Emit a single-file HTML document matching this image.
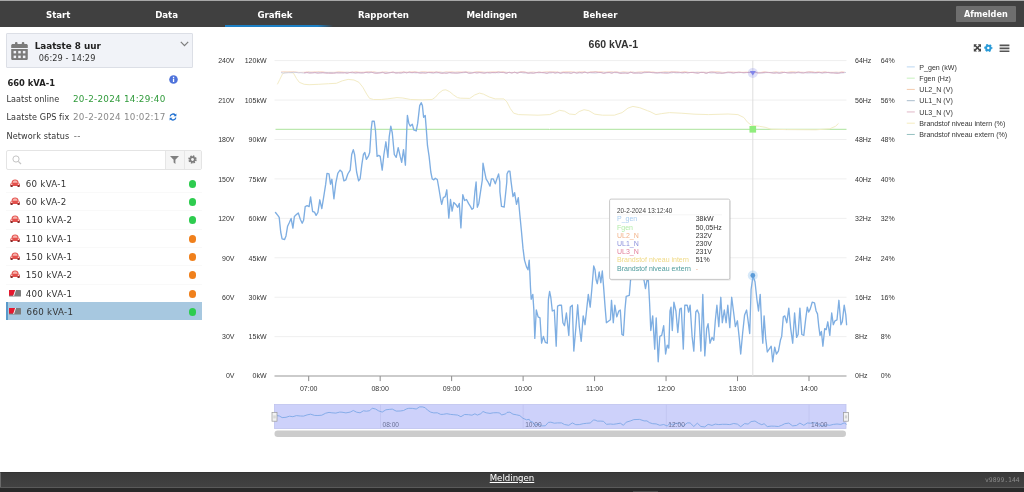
<!DOCTYPE html>
<html lang="nl">
<head>
<meta charset="utf-8">
<title>Grafiek - 660 kVA-1</title>
<style>
*{box-sizing:border-box;margin:0;padding:0}
html,body{width:1024px;height:492px;overflow:hidden;background:#fff}
body{position:relative;will-change:transform;font-family:"DejaVu Sans","Liberation Sans",Verdana,sans-serif;font-size:9px;color:#333}
.abs{position:absolute;white-space:nowrap}
/* top nav */
#nav{position:absolute;left:0;top:0;width:1024px;height:27px;background:#404040;border-top:1px solid #a8a8a8}
#nav .tab{position:absolute;top:0;height:26px;width:108.4px;text-align:center;color:#fff;font-weight:bold;font-size:8.6px;line-height:28.4px}
#nav .ul{position:absolute;left:225px;top:23.5px;width:107.5px;height:2.5px;background:linear-gradient(90deg,#1c7fc4 0,#1c7fc4 86%,rgba(28,127,196,0) 100%)}
#logout{position:absolute;left:955.7px;top:5px;width:60.3px;height:16px;background:#6e6e6e;color:#fff;font-weight:bold;font-size:8.15px;line-height:17px;text-align:center;border-radius:1px}
/* date box */
#datebox{position:absolute;left:6px;top:33px;width:186.5px;height:35px;background:#f1f3f8;border:1px solid #dcdfe6;border-radius:1px}
.b{font-weight:bold}
/* search */
#search{position:absolute;left:6px;top:150px;width:195.5px;height:20px;border:1px solid #e4e4e4;border-radius:2px;background:#fff}
#search .btn{position:absolute;top:0;height:18px;width:18.5px;background:#f5f5f5;border-left:1px solid #e6e6e6}
/* list */
.row{position:absolute;left:6px;width:196px;height:18px;border-top:1px solid #f9f9f9;font-size:8.67px;letter-spacing:0.3px;line-height:18.8px;color:#333}
.row .t{position:absolute;left:19.7px;top:0}
.row .dot{position:absolute;left:183.1px;top:5.3px;width:7.4px;height:7.4px;border-radius:50%}
.g{background:#2ecc4f}.o{background:#f0801c}
.row.sel{background:#a7c8e0;border-left:2px solid #5a9aca;border-top:none}
.row svg{position:absolute;left:3.8px;top:4px}
/* footer */
#foot{position:absolute;left:0;top:472px;width:1024px;height:20px;background:linear-gradient(#3b3b3b,#424242 15px);border-top:1px solid #333;border-left:1px solid #6a6a6a}
#foot .line{position:absolute;left:-1px;top:14px;width:1024px;height:1px;background:#5a5a5a}
#foot .below{position:absolute;left:-1px;top:15px;width:1024px;height:5px;background:#292929}
#foot .grip{position:absolute;left:632px;top:18.4px;width:25px;height:1px;background:#4a4a4a}
#foot a{position:absolute;left:-1px;width:1024px;top:-1px;text-align:center;color:#fff;text-decoration:underline;text-underline-offset:0.5px;text-decoration-thickness:0.8px;font-size:8.6px;line-height:13px}
#ver{position:absolute;left:984px;top:2.5px;font-family:"DejaVu Sans Mono","Liberation Mono",monospace;font-size:6.4px;color:#8a8a8a;line-height:9px}
svg.chart{position:absolute;left:0;top:0}
</style>
</head>
<body>
<div id="nav">
  <div class="tab" style="left:4px">Start</div>
  <div class="tab" style="left:112.4px">Data</div>
  <div class="ul"></div>
  <div class="tab" style="left:220.8px">Grafiek</div>
  <div class="tab" style="left:329.2px">Rapporten</div>
  <div class="tab" style="left:437.6px">Meldingen</div>
  <div class="tab" style="left:546px">Beheer</div>
  <div id="logout">Afmelden</div>
</div>

<div id="datebox">
  <svg class="abs" style="left:4px;top:8.2px" width="17" height="19" viewBox="0 0 17 19">
    <g fill="#7b7b7b">
      <rect x="4" y="0" width="2.5" height="4" rx="1"/><rect x="10.8" y="0" width="2.5" height="4" rx="1"/>
      <path d="M0.2 3.6C0.2 2.7 0.9 2 1.8 2H15.2C16.1 2 16.8 2.7 16.8 3.6V5.9H0.2z"/>
      <path d="M0.2 6.9H16.8V16.4C16.8 17.3 16.1 18 15.2 18H1.8C0.9 18 0.2 17.3 0.2 16.4z"/>
    </g>
    <g fill="#f1f3f8">
      <rect x="2.6" y="8.9" width="2.5" height="2.5"/><rect x="7.25" y="8.9" width="2.5" height="2.5"/><rect x="11.9" y="8.9" width="2.5" height="2.5"/>
      <rect x="2.6" y="13.6" width="2.5" height="2.5"/><rect x="7.25" y="13.6" width="2.5" height="2.5"/><rect x="11.9" y="13.6" width="2.5" height="2.5"/>
    </g>
  </svg>
  <div class="abs b" style="left:27.7px;top:5.6px;font-size:8.8px;line-height:12px;color:#222">Laatste 8 uur</div>
  <div class="abs" style="left:31.8px;top:18px;font-size:8.2px;letter-spacing:0.1px;line-height:12px;color:#333">06:29 - 14:29</div>
  <svg class="abs" style="left:173px;top:6.5px" width="9" height="6" viewBox="0 0 9 6"><path d="M0.8 0.8L4.5 4.6L8.2 0.8" stroke="#7c7c7c" stroke-width="1.2" fill="none"/></svg>
</div>

<div class="abs b" style="left:7.5px;top:76.5px;font-size:8.35px;line-height:12px;color:#222">660 kVA-1</div>
<svg class="abs" style="left:168.5px;top:75px" width="9" height="9" viewBox="0 0 9 9"><circle cx="4.5" cy="4.5" r="4.3" fill="#4f73db"/><rect x="3.9" y="3.7" width="1.3" height="3.3" fill="#fff"/><rect x="3.9" y="1.8" width="1.3" height="1.3" fill="#fff"/></svg>
<div class="abs" style="left:6.5px;top:93.3px;font-size:8.1px;letter-spacing:0.03px;line-height:12px">Laatst online</div>
<div class="abs" style="left:73px;top:93px;font-size:8.8px;letter-spacing:0.26px;line-height:12px;color:#2f9a3a">20-2-2024 14:29:40</div>
<div class="abs" style="left:6.5px;top:111px;font-size:8.1px;letter-spacing:0.1px;line-height:12px">Laatste GPS fix</div>
<div class="abs" style="left:73px;top:110.8px;font-size:8.8px;letter-spacing:0.26px;line-height:12px;color:#8a8a8a">20-2-2024 10:02:17</div>
<svg class="abs" style="left:168.5px;top:113px" width="8" height="8" viewBox="0 0 8 8"><path d="M1.2 3.4A2.9 2.9 0 0 1 6.3 2.1" stroke="#1f6fd0" stroke-width="1.3" fill="none"/><path d="M6.8 4.6A2.9 2.9 0 0 1 1.7 5.9" stroke="#1f6fd0" stroke-width="1.3" fill="none"/><path d="M7.4 0.4v2.9h-2.9z" fill="#1f6fd0"/><path d="M0.6 7.6v-2.9h2.9z" fill="#1f6fd0"/></svg>
<div class="abs" style="left:6.5px;top:130px;font-size:8.1px;letter-spacing:0.11px;line-height:12px">Network status</div>
<div class="abs" style="left:73.8px;top:130px;font-size:8.8px;letter-spacing:0.3px;line-height:12px;color:#666">--</div>

<div id="search">
  <svg class="abs" style="left:5px;top:4px" width="10" height="10" viewBox="0 0 10 10"><circle cx="4" cy="4" r="3.1" stroke="#c4c4c4" stroke-width="1" fill="none"/><path d="M6.3 6.3L9 9" stroke="#c4c4c4" stroke-width="1.2"/></svg>
  <div class="btn" style="left:158px"><svg class="abs" style="left:3.5px;top:4.5px" width="9" height="8" viewBox="0 0 9 8"><path d="M0 0h9L5.4 3.8V8L3.6 6.6V3.8z" fill="#808080"/></svg></div>
  <div class="btn" style="left:176.5px;width:17px"><svg class="abs" style="left:3.5px;top:4px" width="9" height="9" viewBox="-4.5 -4.5 9 9"><circle r="2.9" fill="none" stroke="#7c7c7c" stroke-width="2.6" stroke-dasharray="1.3 0.98"/><circle r="2.3" fill="none" stroke="#7c7c7c" stroke-width="1.7"/></svg></div>
</div>

<div id="list">
  <div class="row" style="top:175px;border-top:none"><svg width="10.2" height="8.4" viewBox="0 0 11 9"><use href="#car"/></svg><span class="t">60 kVA-1</span><span class="dot g"></span></div>
  <div class="row" style="top:192px"><svg width="10.2" height="8.4" viewBox="0 0 11 9"><use href="#car"/></svg><span class="t">60 kVA-2</span><span class="dot g"></span></div>
  <div class="row" style="top:210px"><svg width="10.2" height="8.4" viewBox="0 0 11 9"><use href="#car"/></svg><span class="t">110 kVA-2</span><span class="dot g"></span></div>
  <div class="row" style="top:229px"><svg width="10.2" height="8.4" viewBox="0 0 11 9"><use href="#car"/></svg><span class="t">110 kVA-1</span><span class="dot o"></span></div>
  <div class="row" style="top:247px"><svg width="10.2" height="8.4" viewBox="0 0 11 9"><use href="#car"/></svg><span class="t">150 kVA-1</span><span class="dot o"></span></div>
  <div class="row" style="top:265px"><svg width="10.2" height="8.4" viewBox="0 0 11 9"><use href="#car"/></svg><span class="t">150 kVA-2</span><span class="dot o"></span></div>
  <div class="row" style="top:284px"><svg width="12" height="7" viewBox="0 0 12 7" style="left:3.2px;top:5.2px"><use href="#gen"/></svg><span class="t">400 kVA-1</span><span class="dot o"></span></div>
  <div class="row sel" style="top:302px;height:18px"><svg width="12" height="7" viewBox="0 0 12 7" style="left:0.8px;top:6.2px"><use href="#gen"/></svg><span class="t" style="left:18.6px;top:1px">660 kVA-1</span><span class="dot g" style="left:180.8px;top:6.2px"></span></div>
</div>

<svg width="0" height="0" style="position:absolute">
  <defs>
    <g id="car">
      <path d="M1.6 4.2C2 1.6 3.2 0.6 5.5 0.6S9 1.6 9.4 4.2C10.4 4.6 10.8 5.4 10.8 6.4V7.6H0.2V6.4C0.2 5.4 0.6 4.6 1.6 4.2z" fill="#e4504c"/>
      <path d="M2.8 4C3.1 2.3 3.9 1.7 5.5 1.7S7.9 2.3 8.2 4z" fill="#f6b4ae"/>
      <rect x="0.6" y="6.6" width="2.3" height="2.2" rx="0.6" fill="#7a2a28"/>
      <rect x="8.1" y="6.6" width="2.3" height="2.2" rx="0.6" fill="#7a2a28"/>
      <circle cx="1.9" cy="5.7" r="0.8" fill="#fbe0dc"/><circle cx="9.1" cy="5.7" r="0.8" fill="#fbe0dc"/>
    </g>
    <g id="gen">
      <rect x="0" y="0" width="12" height="6.6" rx="0.6" fill="#7d7d7d"/>
      <path d="M0 0.4C0 0.2 0.2 0 0.4 0H6.4L4.6 5.6H0z" fill="#e6182e"/>
      <path d="M6.6 0L4.6 6" stroke="#fff" stroke-width="0.9"/>
    </g>
  </defs>
</svg>

<svg class="chart" width="1024" height="492" viewBox="0 0 1024 492">
<path d="M274.5 60.6H846.5" stroke="#efefef" stroke-width="1" fill="none"/>
<path d="M274.5 100.037H846.5" stroke="#efefef" stroke-width="1" fill="none"/>
<path d="M274.5 139.475H846.5" stroke="#efefef" stroke-width="1" fill="none"/>
<path d="M274.5 178.912H846.5" stroke="#efefef" stroke-width="1" fill="none"/>
<path d="M274.5 218.35H846.5" stroke="#efefef" stroke-width="1" fill="none"/>
<path d="M274.5 257.788H846.5" stroke="#efefef" stroke-width="1" fill="none"/>
<path d="M274.5 297.225H846.5" stroke="#efefef" stroke-width="1" fill="none"/>
<path d="M274.5 336.663H846.5" stroke="#efefef" stroke-width="1" fill="none"/>
<g font-family="Liberation Sans, Arial, sans-serif" font-size="7" fill="#333">
<text x="234.5" y="63.35" text-anchor="end">240V</text>
<text x="266.5" y="63.35" text-anchor="end">120kW</text>
<text x="855" y="63.35">64Hz</text>
<text x="880.7" y="63.35">64%</text>
<text x="234.5" y="102.787" text-anchor="end">210V</text>
<text x="266.5" y="102.787" text-anchor="end">105kW</text>
<text x="855" y="102.787">56Hz</text>
<text x="880.7" y="102.787">56%</text>
<text x="234.5" y="142.225" text-anchor="end">180V</text>
<text x="266.5" y="142.225" text-anchor="end">90kW</text>
<text x="855" y="142.225">48Hz</text>
<text x="880.7" y="142.225">48%</text>
<text x="234.5" y="181.662" text-anchor="end">150V</text>
<text x="266.5" y="181.662" text-anchor="end">75kW</text>
<text x="855" y="181.662">40Hz</text>
<text x="880.7" y="181.662">40%</text>
<text x="234.5" y="221.1" text-anchor="end">120V</text>
<text x="266.5" y="221.1" text-anchor="end">60kW</text>
<text x="855" y="221.1">32Hz</text>
<text x="880.7" y="221.1">32%</text>
<text x="234.5" y="260.538" text-anchor="end">90V</text>
<text x="266.5" y="260.538" text-anchor="end">45kW</text>
<text x="855" y="260.538">24Hz</text>
<text x="880.7" y="260.538">24%</text>
<text x="234.5" y="299.975" text-anchor="end">60V</text>
<text x="266.5" y="299.975" text-anchor="end">30kW</text>
<text x="855" y="299.975">16Hz</text>
<text x="880.7" y="299.975">16%</text>
<text x="234.5" y="339.413" text-anchor="end">30V</text>
<text x="266.5" y="339.413" text-anchor="end">15kW</text>
<text x="855" y="339.413">8Hz</text>
<text x="880.7" y="339.413">8%</text>
<text x="234.5" y="378.05" text-anchor="end">0V</text>
<text x="266.5" y="378.05" text-anchor="end">0kW</text>
<text x="855" y="378.05">0Hz</text>
<text x="880.7" y="378.05">0%</text>
<text x="308.7" y="391.2" text-anchor="middle">07:00</text>
<text x="380.17" y="391.2" text-anchor="middle">08:00</text>
<text x="451.64" y="391.2" text-anchor="middle">09:00</text>
<text x="523.11" y="391.2" text-anchor="middle">10:00</text>
<text x="594.58" y="391.2" text-anchor="middle">11:00</text>
<text x="666.05" y="391.2" text-anchor="middle">12:00</text>
<text x="737.52" y="391.2" text-anchor="middle">13:00</text>
<text x="808.99" y="391.2" text-anchor="middle">14:00</text>
</g>
<path d="M274.5 376H846.5" stroke="#989898" stroke-width="1.2" fill="none"/>
<path d="M308.7 376.1V381.1" stroke="#8a8a8a" stroke-width="1" fill="none"/>
<path d="M380.17 376.1V381.1" stroke="#8a8a8a" stroke-width="1" fill="none"/>
<path d="M451.64 376.1V381.1" stroke="#8a8a8a" stroke-width="1" fill="none"/>
<path d="M523.11 376.1V381.1" stroke="#8a8a8a" stroke-width="1" fill="none"/>
<path d="M594.58 376.1V381.1" stroke="#8a8a8a" stroke-width="1" fill="none"/>
<path d="M666.05 376.1V381.1" stroke="#8a8a8a" stroke-width="1" fill="none"/>
<path d="M737.52 376.1V381.1" stroke="#8a8a8a" stroke-width="1" fill="none"/>
<path d="M808.99 376.1V381.1" stroke="#8a8a8a" stroke-width="1" fill="none"/>
<path d="M752.8 60.6V376.1" stroke="#dedede" stroke-width="1" fill="none"/>
<path d="M275.5 129.3H549 L549.5 130 L550 129.3 H846.5" stroke="#ace39b" stroke-width="1" fill="none"/>
<path d="M277.4 84.3 L279.8 79.4 L282.7 73.6 L285.6 72.2 L289.5 72.2 L293.4 73 L296.4 78.4 L299.3 82.3 L304.2 84.3 L309.1 84.7 L318.8 84.3 L328.6 83.7 L336.4 83.3 L342.3 80.8 L348.1 79.4 L354 80 L358.9 82.3 L362.8 87.2 L366.7 94.1 L369.6 98.4 L373.5 99.5 L381.3 99.5 L387.2 98.9 L397 97.6 L402.8 98 L410.6 99.5 L422.3 99.9 L432.1 99.5 L435.6 97 L438.9 93.1 L442.9 90.2 L445.8 89.8 L449.7 91.7 L453.6 95 L457.5 97.6 L460.4 98.2 L469.8 98.4 L474.6 95 L479.5 93.1 L483.4 94.1 L489.3 97 L495.2 98.9 L503.9 98.9 L506.9 101.9 L510.4 108.7 L513.7 113.2 L518.6 114.6 L538.1 115.2 L549.8 114.6 L554.7 112.6 L559.6 110.3 L564.5 111.2 L569.4 114 L575.2 114.6 L579.1 111.6 L584 109.7 L588.9 110.7 L594.8 114.2 L602.6 115.2 L614.3 115.2 L622.1 112.6 L628 108.1 L632.9 106.4 L639.7 107.7 L647.5 110.7 L650 111.6 L655.9 114.6 L661.7 113.6 L669.5 112.6 L681.2 113.2 L694.9 114.2 L708.6 114.6 L728.1 114 L737.9 114.6 L743.8 117.5 L747.7 122.4 L751.6 125.3 L759.4 126.3 L765.2 127.3 L771.1 129.2 L786.7 129.6 L816 129.8 L829.7 128.8 L835.5 126.3 L838.5 123.4" stroke="#f3ecc6" stroke-width="1" fill="none" stroke-linejoin="round"/>
<path d="M281 71.8 L284 71.6 L287 71.9 L290 71.7 L293 71.6 L296 71.9 L299 72.4 L302 72.3 L305 72.2 L308 71.7 L311 72 L314 71.8 L317 71.7 L320 71.6 L323 71.7 L326 72.4 L329 72.3 L332 72.3 L335 72.3 L338 71.7 L341 71.8 L344 72.1 L347 72.2 L350 72.3 L353 72.3 L356 71.6 L359 72.1 L362 72.2 L365 72 L368 71.7 L371 72 L374 71.6 L377 72.4 L380 72.3 L383 72 L386 71.8 L389 72.4 L392 72.1 L395 72.3 L398 72.3 L401 72 L404 71.9 L407 72.1 L410 71.9 L413 71.7 L416 71.8 L419 72.3 L422 71.6 L425 71.6 L428 72.1 L431 71.8 L434 72 L437 72 L440 71.9 L443 72.4 L446 71.7 L449 71.9 L452 71.7 L455 72.1 L458 71.8 L461 71.9 L464 72.2 L467 71.8 L470 72.1 L473 72.4 L476 71.6 L479 71.6 L482 71.8 L485 72.2 L488 72.1 L491 71.8 L494 71.8 L497 71.7 L500 72 L503 71.6 L506 72.2 L509 72.4 L512 72.4 L515 72.2 L518 72.4 L521 71.6 L524 71.8 L527 72.4 L530 72.2 L533 71.9 L536 72.4 L539 72.1 L542 72.3 L545 71.8 L548 71.7 L551 71.9 L554 71.7 L557 71.9 L560 72.4 L563 71.8 L566 71.6 L569 71.6 L572 71.7 L575 72.3 L578 71.9 L581 71.8 L584 71.6 L587 72.4 L590 71.9 L593 71.7 L596 71.6 L599 71.6 L602 71.7 L605 72.2 L608 71.7 L611 71.6 L614 72 L617 71.8 L620 72.4 L623 71.7 L626 72 L629 72.2 L632 71.9 L635 72.4 L638 72 L641 71.8 L644 71.9 L647 71.6 L650 71.9 L653 71.8 L656 72.4 L659 72.3 L662 72 L665 71.6 L668 71.8 L671 71.8 L674 71.7 L677 71.8 L680 72.3 L683 71.7 L686 71.6 L689 72.4 L692 72.1 L695 72.4 L698 71.9 L701 72.4 L704 72.1 L707 72.3 L710 72.2 L713 72 L716 71.6 L719 71.7 L722 72.3 L725 72.4 L728 72.4 L731 71.9 L734 72.1 L737 72.3 L740 72.1 L743 72.3 L746 72 L749 72.1 L752 72.2 L755 71.8 L758 72.4 L761 72.4 L764 71.6 L767 72.4 L770 72.4 L773 72.2 L776 71.6 L779 72.4 L782 71.7 L785 72.4 L788 72.2 L791 71.6 L794 71.7 L797 72.1 L800 72.1 L803 72.2 L806 72.4 L809 71.7 L812 71.6 L815 72.4 L818 71.6 L821 72.3 L824 71.7 L827 72.3 L830 72.3 L833 72.3 L836 72 L839 72.3 L842 71.7 L845 72.2" stroke="#f8d6c4" stroke-width="0.8" fill="none"/>
<path d="M281 72.6 L283.5 73 L286 72.9 L288.5 72.7 L291 72.7 L293.5 72.4 L296 72.4 L298.5 72.8 L301 72.7 L303.5 73 L306 72.8 L308.5 72.4 L311 72.6 L313.5 72.9 L316 72.7 L318.5 72.4 L321 72.9 L323.5 72.9 L326 72.4 L328.5 72.7 L331 72.6 L333.5 72.9 L336 72.6 L338.5 72.5 L341 72.7 L343.5 73 L346 72.4 L348.5 72.4 L351 72.8 L353.5 73 L356 72.7 L358.5 72.7 L361 73 L363.5 72.9 L366 72.4 L368.5 73 L371 72.5 L373.5 72.6 L376 72.9 L378.5 72.6 L381 72.9 L383.5 72.5 L386 73 L388.5 72.5 L391 72.5 L393.5 72.7 L396 72.6 L398.5 72.7 L401 73 L403.5 72.8 L406 72.4 L408.5 72.6 L411 72.7 L413.5 72.7 L416 72.9 L418.5 72.7 L421 72.4 L423.5 72.5 L426 72.9 L428.5 72.6 L431 72.9 L433.5 73 L436 72.8 L438.5 72.8 L441 72.8 L443.5 72.6 L446 73 L448.5 72.7 L451 73 L453.5 72.6 L456 73 L458.5 72.9 L461 72.8 L463.5 72.7 L466 72.4 L468.5 72.9 L471 72.6 L473.5 72.8 L476 72.4 L478.5 72.4 L481 72.5 L483.5 72.9 L486 72.5 L488.5 73 L491 72.6 L493.5 72.8 L496 72.6 L498.5 72.8 L501 72.4 L503.5 72.6 L506 73 L508.5 72.5 L511 72.8 L513.5 72.6 L516 72.6 L518.5 72.4 L521 72.4 L523.5 73 L526 72.9 L528.5 72.9 L531 72.9 L533.5 73 L536 72.5 L538.5 72.8 L541 72.7 L543.5 72.8 L546 73 L548.5 72.9 L551 73 L553.5 72.4 L556 72.8 L558.5 72.8 L561 72.9 L563.5 72.8 L566 72.9 L568.5 72.6 L571 73 L573.5 72.6 L576 72.8 L578.5 73 L581 72.8 L583.5 72.6 L586 72.5 L588.5 72.6 L591 72.8 L593.5 73 L596 73 L598.5 72.6 L601 72.6 L603.5 72.9 L606 72.5 L608.5 72.6 L611 72.4 L613.5 72.5 L616 72.7 L618.5 72.8 L621 72.8 L623.5 72.6 L626 73 L628.5 72.8 L631 72.5 L633.5 72.4 L636 73 L638.5 73 L641 73 L643.5 72.8 L646 72.6 L648.5 72.4 L651 72.5 L653.5 72.5 L656 73 L658.5 73 L661 72.9 L663.5 72.5 L666 72.5 L668.5 72.6 L671 73 L673.5 72.5 L676 72.9 L678.5 72.8 L681 72.7 L683.5 73 L686 72.5 L688.5 72.7 L691 72.5 L693.5 72.4 L696 72.4 L698.5 72.6 L701 72.4 L703.5 72.4 L706 73 L708.5 72.6 L711 73 L713.5 72.8 L716 72.9 L718.5 72.8 L721 73 L723.5 73 L726 72.9 L728.5 72.7 L731 72.8 L733.5 72.9 L736 72.7 L738.5 72.7 L741 72.5 L743.5 72.9 L746 72.7 L748.5 72.4 L751 72.5 L753.5 73 L756 72.5 L758.5 72.6 L761 72.8 L763.5 73 L766 72.6 L768.5 72.6 L771 72.6 L773.5 72.4 L776 73 L778.5 72.4 L781 73 L783.5 72.5 L786 72.5 L788.5 72.9 L791 72.9 L793.5 72.5 L796 72.7 L798.5 72.7 L801 72.9 L803.5 72.5 L806 72.9 L808.5 73 L811 72.8 L813.5 73 L816 73 L818.5 72.6 L821 72.9 L823.5 72.9 L826 72.8 L828.5 72.4 L831 72.8 L833.5 73 L836 72.6 L838.5 72.8 L841 73 L843.5 72.8 L846 72.4" stroke="#c4c4da" stroke-width="0.8" fill="none"/>
<path d="M304 72.9 L306.7 72.4 L309.4 73.2 L312.1 72.9 L314.8 72.4 L317.5 73.3 L320.2 72.9 L322.9 72.5 L325.6 73.2 L328.3 73.2 L331 73.3 L333.7 73.2 L336.4 72.9 L339.1 73 L341.8 72.8 L344.5 72.7 L347.2 73.4 L349.9 72.5 L352.6 72.1 L355.3 73 L358 72.7 L360.7 72.8 L363.4 72.8 L366.1 72.3 L368.8 72.3 L371.5 72.1 L374.2 73.1 L376.9 73.3 L379.6 73 L382.3 72.2 L385 73.4 L387.7 73.2 L390.4 72.7 L393.1 72 L395.8 73.2 L398.5 72.9 L401.2 72.9 L403.9 72 L406.6 73 L409.3 72 L412 72.7 L414.7 72.2 L417.4 72.5 L420.1 73.2 L422.8 73 L425.5 73.1 L428.2 72.4 L430.9 72.5 L433.6 72.8 L436.3 72 L439 72.6 L441.7 73.4 L444.4 73.1 L447.1 73.2 L449.8 72.4 L452.5 73 L455.2 73.1 L457.9 73 L460.6 72.6 L463.3 72.2 L466 72 L468.7 73.2 L471.4 73.3 L474.1 72.4 L476.8 73.1 L479.5 72.6 L482.2 72.9 L484.9 73.2 L487.6 72.4 L490.3 72.9 L493 72.4 L495.7 72.7 L498.4 72 L501.1 72.4 L503.8 72.4 L506.5 73.3 L509.2 72.2 L511.9 73.1 L514.6 72.1 L517.3 73.4 L520 72.2 L522.7 72.1 L525.4 72.3 L528.1 73.3 L530.8 72.9 L533.5 73.2 L536.2 72.7 L538.9 72.2 L541.6 72.5 L544.3 72.6 L547 73.4 L549.7 72.2 L552.4 72.3 L555.1 73.2 L557.8 72.2 L560.5 73.4 L563.2 72.4 L565.9 72.8 L568.6 72.9 L571.3 73.3 L574 72.1 L576.7 73.2 L579.4 72.3 L582.1 73 L584.8 72 L587.5 73.1 L590.2 72.3 L592.9 72.3 L595.6 72 L598.3 72.5 L601 72.5 L603.7 73.4 L606.4 72.8 L609.1 72.5 L611.8 73.4 L614.5 72.2 L617.2 72.3 L619.9 73.3 L622.6 73.3 L625.3 73 L628 73.4 L630.7 72.1 L633.4 73.3 L636.1 73 L638.8 72.9 L641.5 73.2 L644.2 72.1 L646.9 72.3 L649.6 72.2 L652.3 72.7 L655 72.8 L657.7 72.8 L660.4 72.5 L663.1 73 L665.8 73.2 L668.5 73.1 L671.2 72.1 L673.9 72.2 L676.6 72.3 L679.3 72.3 L682 72.8 L684.7 72.3 L687.4 72.9 L690.1 72.5 L692.8 72.5 L695.5 73 L698.2 73.3 L700.9 72.3 L703.6 72.5 L706.3 73.4 L709 72.3 L711.7 72 L714.4 72.3 L717.1 73.2 L719.8 73 L722.5 73.3 L725.2 72.7 L727.9 72.1 L730.6 72.4 L733.3 73 L736 72.5 L738.7 72.2 L741.4 72.5 L744.1 72.6 L746.8 72.5 L749.5 72.6 L752.2 72.2 L754.9 72 L757.6 73.1 L760.3 73 L763 72.6 L765.7 72.2 L768.4 72.4 L771.1 72.8 L773.8 73.3 L776.5 72.7 L779.2 73.4 L781.9 72.7 L784.6 72.3 L787.3 72.9 L790 72.8 L792.7 72.8 L795.4 73 L798.1 72 L800.8 72.6 L803.5 73.1 L806.2 72.2 L808.9 72.1 L811.6 72.3 L814.3 72.4 L817 72.6 L819.7 72.4 L822.4 72.9 L825.1 72.2 L827.8 72.5 L830.5 72.9 L833.2 72.8 L835.9 73.3 L838.6 73.3 L841.3 72.4 L844 72.5" stroke="#d6a9bf" stroke-width="0.9" fill="none"/>
<path d="M275.5 212.5 L277.8 215.4 L279.2 217.4 L280.7 232 L282.1 238.9 L284.6 239.5 L286 235.9 L287.6 226.2 L289.5 222.3 L291.1 218.4 L292.9 228.1 L294.4 216.4 L296.4 214.5 L298.3 212.9 L300.3 219.3 L302.2 223.2 L303.6 220.3 L305.2 206.6 L307.1 205.7 L309.1 206.6 L310.6 196.9 L312.6 211.5 L314.5 212.1 L316.1 215.4 L317.9 212.5 L319.8 199.8 L321.8 208.6 L323.7 196.9 L325.7 184.2 L327 173.4 L329 173.8 L330.5 184.2 L331.9 179.3 L333.9 198.8 L335.8 183.2 L337.8 173.4 L339.7 170.5 L340 170.1 L342 172 L343.9 180.8 L345.9 179.8 L347.8 174 L350.2 170.1 L351.7 154.5 L353.3 149.6 L354.6 154.5 L356.6 172 L358.6 180.8 L360.1 178.9 L361.9 164.2 L363.4 154.5 L364.8 152.5 L366.4 159.3 L368.3 156.4 L369.7 152.5 L371.2 129.1 L372.2 121.2 L374.2 121.2 L375.5 131 L377.1 156.4 L378.7 155.4 L380.2 156.4 L382.2 170.1 L383.9 154.5 L385.9 141.8 L387.9 157.4 L389.2 136.9 L390.8 126.1 L392.3 133 L394.3 154.5 L396.2 157.4 L398.2 147.6 L400.2 156.4 L401.7 162.3 L403.5 149.6 L405.4 165.2 L406.8 129.1 L407.4 115.4 L408.8 123.2 L410.3 126.1 L412.3 124.2 L413.8 130 L416.2 131 L417.7 123.2 L419.7 105.6 L421.2 102.7 L422.4 105.6 L423.6 117.3 L425.2 115.4 L426.3 129.1 L427.5 145.7 L429.1 156.4 L430.8 172 L432.2 178.9 L433.8 179.8 L435.3 178.3 L437.3 179.5 L438.8 187.8 L440.7 199.5 L441.7 204.4 L443.3 197.6 L445.2 196.6 L446.8 189.8 L448.8 218.1 L450.5 199.5 L452.1 211.2 L453.8 202.5 L455.8 204.4 L457.7 207.3 L459.3 203.4 L460.9 227.9 L462.8 194.6 L464.6 200.5 L466.5 199.5 L468.5 203.4 L470.4 206.4 L472 209.3 L473.4 208.3 L474.9 191.7 L476.1 182 L477.3 207.3 L478.8 203.4 L480.8 189.8 L482.3 180 L483 163.2 L484.5 171.1 L486.1 178.9 L487.9 181.8 L490 186.1 L491.4 178.9 L493.3 178.9 L495.3 183.8 L497.2 177.9 L498.6 174 L499.8 181.8 L499.9 191.7 L501.5 206.4 L504.2 207 L505.8 191.7 L506.8 182 L507 174 L508.4 171.1 L509.9 171.1 L511.1 181.8 L513 196.6 L514.6 192.7 L516.5 204.4 L518.3 197.6 L519.8 214.2 L521.4 230.8 L523 248.4 L524.5 260.1 L526.5 266.9 L528 269.8 L529.2 260.1 L529.8 271.8 L530.5 287.6 L531.2 299.3 L532.8 294.4 L533.8 309.1 L534.8 338.4 L536.3 310 L538.1 316.9 L540 317.9 L541.6 343.2 L543.4 336.4 L545.3 342.3 L547.3 343.2 L548.4 299.3 L549.6 291.5 L550.8 297.3 L552.3 311 L554.3 310 L556.2 346.2 L557.6 306.1 L559.6 305.2 L561.5 305.2 L562.9 322.7 L564.5 325.7 L566.4 313 L568.8 335.4 L570.3 307.1 L572.3 305.2 L573.8 351.1 L575.8 328.6 L577.7 304.8 L579.3 326.6 L581.2 341.3 L583.2 315.9 L585 324.7 L586.5 311 L588.3 294.4 L590.2 307.1 L591.8 289.5 L593.4 270 L593.7 265.9 L595 269.8 L596.1 279.8 L597.3 283.7 L599.2 272 L600.8 282.7 L602.3 271 L603.5 285.6 L605.1 307.1 L606.4 322.7 L608.4 321.2 L610.4 319.8 L611.5 300.3 L613.3 322.7 L614.8 305.2 L616.8 316.9 L618.8 311 L620.3 310 L621.9 334.5 L623.4 335.4 L625 309.1 L626.2 296.4 L629.3 295.4 L630.5 280.7 L631.8 270 L633.8 264.1 L636.7 268 L639.6 262.2 L642.6 270 L644.1 280.7 L645.5 288.6 L646.9 280.7 L648.4 280.7 L649.6 303.2 L650.8 330.5 L652.7 315.9 L654.7 349.1 L656.2 317.9 L658.2 361.8 L659.8 336.4 L661.7 335.4 L663.7 325.7 L665.6 354 L667.2 345.2 L668.8 348.1 L670 311 L671 307.1 L672.3 330.5 L673.9 302.2 L675.9 311 L677.8 332.5 L679.8 309.1 L681.3 308.1 L683.3 349.1 L684.8 305.2 L687.2 305.2 L688.6 312 L690.1 305.2 L692.1 336.4 L693.8 351.1 L695.8 312 L697.3 310 L698.9 313.9 L700.9 351.1 L702.8 294.4 L704.8 355.9 L706.7 328.6 L708.1 323.7 L710 343.2 L712 337.4 L713.8 340.3 L715.3 320.8 L716.9 305.2 L718.8 326.6 L720.8 297.3 L722.3 322.7 L724.3 310 L726.1 322.7 L727.8 305.2 L729.8 327.6 L731.7 297.3 L733.7 313 L735.4 326.6 L737.4 320.8 L739.3 338.4 L740.7 354 L742.7 332.5 L744.6 314.9 L746.6 310 L748.1 320.8 L749.7 333.5 L751.1 289.5 L753 275.9 L755 281.7 L756.9 299.3 L758.5 311 L760.2 294.4 L761.8 328.6 L762.8 343.2 L764.1 315.9 L765.7 338.4 L767.3 352 L769.2 349.1 L771.2 346.2 L772.7 361.8 L774.7 347.1 L776.4 354 L778.4 351.1 L780.4 340.3 L781.7 336.4 L783.3 316.9 L784.8 315.9 L786.8 322.7 L788.8 308.1 L790.7 328.6 L792.7 343.2 L794.6 313 L796.6 337.4 L798.1 334.5 L799.9 308.1 L801.8 334.5 L803.8 335.4 L805.7 318.8 L807.3 307.1 L808.7 312 L810.2 309.1 L812.2 302.2 L814.5 302.8 L816.1 311 L817.5 313.9 L818.8 326.6 L820 335.4 L821.4 331.5 L822.9 346.2 L824.7 328.6 L826.2 329.6 L827.8 321.8 L829.8 335.4 L831.7 313 L833.3 324.7 L835 320.8 L837 319.8 L838.9 300.3 L840.9 324.7 L842.3 321.8 L844.2 305.2 L845.8 314.9 L846.6 324.7" stroke="#7eaee2" stroke-width="1.35" fill="none" stroke-linejoin="round" stroke-linecap="round"/>
<circle cx="752.8" cy="73" r="5" fill="#8085e9" fill-opacity="0.25"/>
<path d="M749.8 71h6l-3 4.5z" fill="#8085e9"/>
<rect x="749.5" y="126" width="6.6" height="6.6" fill="#90ed7d"/>
<circle cx="752.8" cy="275.5" r="5" fill="#7cb5ec" fill-opacity="0.3"/>
<circle cx="752.8" cy="275.5" r="2.4" fill="#5b9bd8"/>
<text x="613.3" y="47.9" text-anchor="middle" font-family="Liberation Sans, Arial, sans-serif" font-size="10.5" font-weight="bold" fill="#333">660 kVA-1</text>
<g font-family="Liberation Sans, Arial, sans-serif" font-size="7.1" fill="#333">
<path d="M906.8 66.9H914.8" stroke="#b4d2f0" stroke-width="0.9" fill="none"/>
<text x="919.3" y="69.6">P_gen (kW)</text>
<path d="M906.8 78.16H914.8" stroke="#c2eeb8" stroke-width="0.9" fill="none"/>
<text x="919.3" y="80.86">Fgen (Hz)</text>
<path d="M906.8 89.42H914.8" stroke="#f2c4a4" stroke-width="0.9" fill="none"/>
<text x="919.3" y="92.12">UL2_N (V)</text>
<path d="M906.8 100.68H914.8" stroke="#9fb6c6" stroke-width="0.9" fill="none"/>
<text x="919.3" y="103.38">UL1_N (V)</text>
<path d="M906.8 111.94H914.8" stroke="#dcb0c2" stroke-width="0.9" fill="none"/>
<text x="919.3" y="114.64">UL3_N (V)</text>
<path d="M906.8 123.2H914.8" stroke="#f4eab8" stroke-width="0.9" fill="none"/>
<text x="919.3" y="125.9">Brandstof niveau intern (%)</text>
<path d="M906.8 134.46H914.8" stroke="#8abaBA" stroke-width="0.9" fill="none"/>
<text x="919.3" y="137.16">Brandstof niveau extern (%)</text>
</g>
<g transform="translate(977.4 47.8)"><path d="M-2.3 -2.3L2.3 2.3M2.3 -2.3L-2.3 2.3" stroke="#444" stroke-width="1.5" fill="none"/><path d="M-3.6 -3.6h3.2l-3.2 3.2zM3.6 -3.6h-3.2l3.2 3.2zM-3.6 3.6h3.2l-3.2 -3.2zM3.6 3.6h-3.2l3.2 -3.2z" fill="#444"/></g>
<g transform="translate(988.3 48)"><circle r="3.1" fill="none" stroke="#2a9bd8" stroke-width="2" stroke-dasharray="1.65 1.6" transform="rotate(-15)"/><circle r="2.2" fill="none" stroke="#2a9bd8" stroke-width="2"/></g>
<g stroke="#555" stroke-width="1.6"><path d="M999.6 45.4h9.8M999.6 48.35h9.8M999.6 51.3h9.8"/></g>
<rect x="274.5" y="404.5" width="571.5" height="24" fill="#cdd1fa" stroke="#bfc3ee" stroke-width="0.8"/>
<path d="M380.5 404.5V428.5" stroke="#c2c6f2" stroke-width="1"/>
<path d="M523.2 404.5V428.5" stroke="#c2c6f2" stroke-width="1"/>
<path d="M666.3 404.5V428.5" stroke="#c2c6f2" stroke-width="1"/>
<path d="M809 404.5V428.5" stroke="#c2c6f2" stroke-width="1"/>
<path d="M275.5 415.5 L279.2 415.9 L282.1 417.6 L286 417.3 L289.5 416.2 L292.9 416.7 L296.4 415.6 L300.3 416 L303.6 416.1 L307.1 414.9 L310.6 414.2 L314.5 415.4 L317.9 415.5 L321.8 415.2 L325.7 413.2 L329 412.4 L331.9 412.8 L335.8 413.1 L339.7 412.1 L342 412.2 L345.9 412.9 L350.2 412.1 L353.3 410.5 L356.6 412.2 L360.1 412.8 L363.4 410.8 L366.4 411.2 L369.7 410.7 L372.2 408.2 L375.5 409 L378.7 410.9 L382.2 412.1 L385.9 409.8 L389.2 409.4 L392.3 409.1 L396.2 411.1 L400.2 411 L403.5 410.5 L406.8 408.8 L408.8 408.3 L412.3 408.4 L416.2 409 L419.7 406.9 L422.4 406.9 L425.2 407.7 L427.5 410.1 L430.8 412.2 L433.8 412.9 L437.3 412.8 L440.7 414.4 L443.3 414.3 L446.8 413.7 L450.5 414.4 L453.8 414.7 L457.7 415.1 L460.9 416.7 L464.6 414.5 L468.5 414.7 L472 415.2 L474.9 413.8 L477.3 415.1 L480.8 413.7 L483 411.5 L486.1 412.8 L490 413.4 L493.3 412.8 L497.2 412.7 L499.8 413 L501.5 415 L505.8 413.8 L507 412.4 L509.9 412.2 L513 414.2 L516.5 414.8 L519.8 415.6 L523 418.3 L526.5 419.8 L529.2 419.3 L530.5 421.5 L532.8 422 L534.8 425.5 L538.1 423.8 L541.6 425.9 L545.3 425.8 L548.4 422.4 L550.8 422.2 L554.3 423.2 L557.6 422.9 L561.5 422.9 L564.5 424.5 L568.8 425.3 L572.3 422.9 L575.8 424.7 L579.3 424.6 L583.2 423.7 L586.5 423.3 L590.2 423 L593.4 420.1 L595 420 L597.3 421.1 L600.8 421.1 L603.5 421.3 L606.4 424.3 L610.4 424 L613.3 424.3 L616.8 423.8 L620.3 423.2 L623.4 425.3 L626.2 422.2 L630.5 420.9 L633.8 419.6 L639.6 419.4 L644.1 420.9 L646.9 420.9 L649.6 422.7 L652.7 423.7 L656.2 423.9 L659.8 425.3 L663.7 424.5 L667.2 426 L670 423.3 L672.3 424.9 L675.9 423.3 L679.8 423.2 L683.3 426.4 L687.2 422.9 L690.1 422.9 L693.8 426.5 L697.3 423.2 L700.9 426.5 L704.8 426.9 L708.1 424.3 L712 425.4 L715.3 424.1 L718.8 424.6 L722.3 424.3 L726.1 424.3 L729.8 424.6 L733.7 423.5 L737.4 424.1 L740.7 426.7 L744.6 423.6 L748.1 424.1 L751.1 421.6 L755 421 L758.5 423.3 L761.8 424.7 L764.1 423.7 L767.3 426.6 L771.2 426.1 L774.7 426.2 L778.4 426.5 L781.7 425.3 L784.8 423.7 L788.8 423.1 L792.7 425.9 L796.6 425.4 L799.9 423.1 L803.8 425.3 L807.3 423 L810.2 423.2 L814.5 422.7 L817.5 423.6 L820 425.3 L822.9 426.1 L826.2 424.8 L829.8 425.3 L833.3 424.4 L837 424 L840.9 424.4 L844.2 422.9 L846.6 424.4" stroke="#7ea8e6" stroke-width="0.9" fill="none" stroke-linejoin="round"/>
<g font-family="Liberation Sans, Arial, sans-serif" font-size="6.6" fill="#6a7196">
<text x="382.5" y="426.7">08:00</text>
<text x="525.2" y="426.7">10:00</text>
<text x="668.3" y="426.7">12:00</text>
<text x="811" y="426.7">14:00</text>
</g>
<rect x="272.0" y="412.6" width="5" height="8.6" fill="#f2f2f2" stroke="#999" stroke-width="0.7"/>
<path d="M273.9 415.4v3M275.1 415.4v3" stroke="#999" stroke-width="0.4"/>
<rect x="843.5" y="412.6" width="5" height="8.6" fill="#f2f2f2" stroke="#999" stroke-width="0.7"/>
<path d="M845.4 415.4v3M846.6 415.4v3" stroke="#999" stroke-width="0.4"/>
<rect x="274.5" y="430.5" width="571.5" height="6.5" rx="3.2" fill="#cccccc"/>
<rect x="610.5" y="200.2" width="120.5" height="80.5" rx="1.5" fill="#000" fill-opacity="0.06"/>
<rect x="610" y="199.7" width="120.5" height="80.5" rx="1.5" fill="#000" fill-opacity="0.06"/>
<rect x="609.6" y="199.1" width="120.2" height="80.3" rx="1.5" fill="#ffffff" stroke="#c8c8c8" stroke-width="1"/>
<g font-family="Liberation Sans, Arial, sans-serif" font-size="7">
<text x="617" y="213" fill="#444" font-size="6.35">20-2-2024 13:12:40</text>
<path d="M617 214.8H722" stroke="#eee" stroke-width="0.6"/>
<text x="617" y="221.4" fill="#a9cdf0">P_gen</text>
<text x="695.7" y="221.4" fill="#333">38kW</text>
<text x="617" y="229.6" fill="#b4ecaa">Fgen</text>
<text x="695.7" y="229.6" fill="#333">50,05Hz</text>
<text x="617" y="237.8" fill="#f2b48c">UL2_N</text>
<text x="695.7" y="237.8" fill="#333">232V</text>
<text x="617" y="246" fill="#8d92dc">UL1_N</text>
<text x="695.7" y="246" fill="#333">230V</text>
<text x="617" y="254.2" fill="#e27f9b">UL3_N</text>
<text x="695.7" y="254.2" fill="#333">231V</text>
<text x="617" y="262.4" fill="#f0da85">Brandstof niveau intern</text>
<text x="695.7" y="262.4" fill="#333">51%</text>
<text x="617" y="270.6" fill="#4f9c9c">Brandstof niveau extern</text>
<text x="695.7" y="270.6" fill="#f2b48c">-</text>
</g>
</svg>

<div id="foot">
  <a>Meldingen</a>
  <div id="ver">v9899.144</div>
  <div class="line"></div><div class="below"></div><div class="grip"></div>
</div>
</body>
</html>
